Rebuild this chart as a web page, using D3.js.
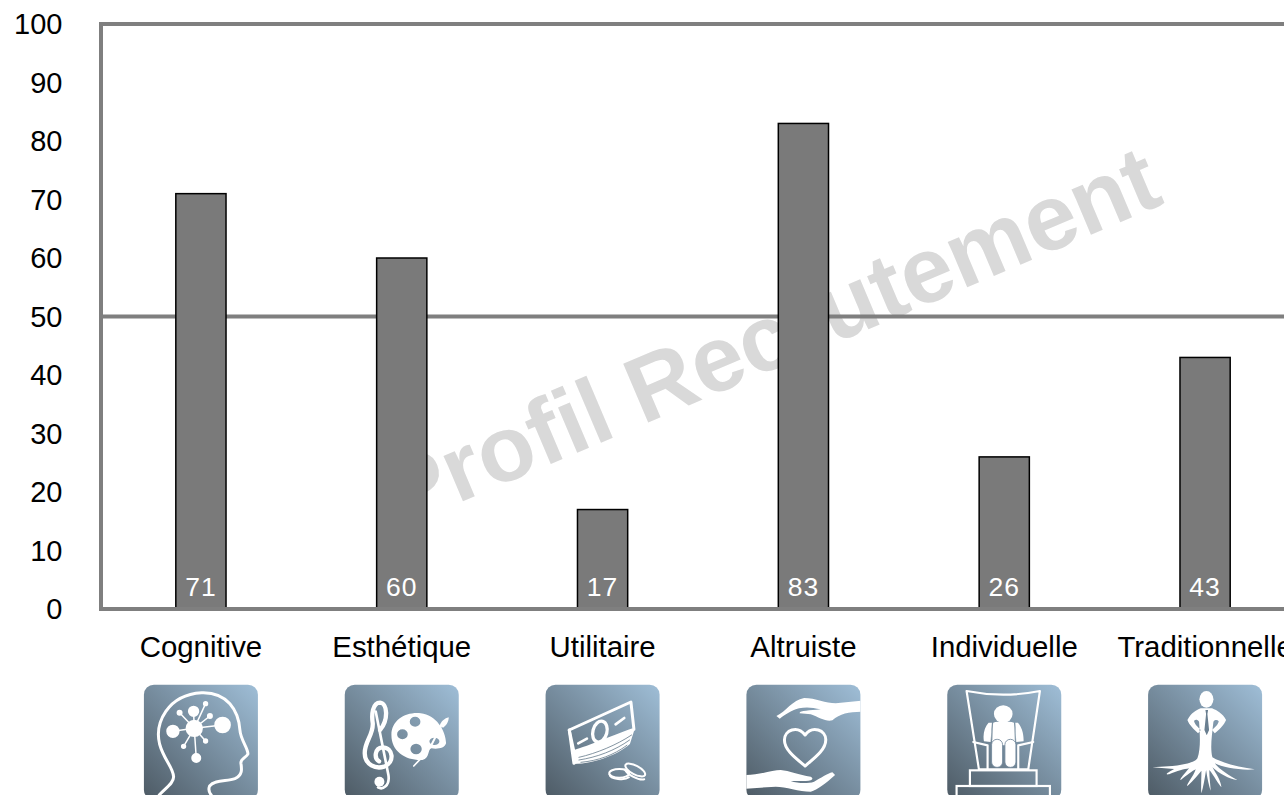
<!DOCTYPE html>
<html>
<head>
<meta charset="utf-8">
<script src="https://cdn.jsdelivr.net/npm/d3@7"></script>
<style>
  html, body { margin: 0; padding: 0; background: #fff; overflow: hidden; }
  svg { display: block; }
  text { font-family: "Liberation Sans", Arial, sans-serif; }
</style>
</head>
<body>
<div id="chart"></div>
<script>
const categories = ["Cognitive", "Esthétique", "Utilitaire", "Altruiste", "Individuelle", "Traditionnelle"];
const scores = [71, 60, 17, 83, 26, 43];
const yTicks = [0, 10, 20, 30, 40, 50, 60, 70, 80, 90, 100];
const limitLines = [50];
const watermark = "Profil Recrutement";

const width = 1284, height = 795;
const margin = {top: 24, left: 101, bottom: 186};
const frameColor = "#7f7f7f";

const svg = d3.select("#chart").append("svg")
    .attr("width", width)
    .attr("height", height);

const scaleY = d3.scaleLinear()
    .domain([0, 100])
    .range([height - margin.bottom, margin.top]);

// the plot runs past the right edge of the window, the last label gets cut
const scaleX = d3.scaleBand()
    .domain(categories)
    .range([margin.left - 0.5, margin.left + 1204.5])
    .paddingInner(0.75)
    .paddingOuter(0.375);

const centre = c => scaleX(c) + scaleX.bandwidth() / 2;

// watermark goes under everything
svg.append("text")
    .attr("transform", "translate(400,528) rotate(-23)")
    .attr("font-size", 93)
    .attr("font-weight", "bold")
    .attr("fill", "#d9d9d9")
    .text(watermark);

// frame, the bottom edge is drawn later so it covers the feet of the bars
svg.append("path")
    .attr("fill", "none")
    .attr("stroke", frameColor)
    .attr("stroke-width", 4)
    .attr("d", d3.line()([
        [width + 10, scaleY(100)],
        [margin.left, scaleY(100)],
        [margin.left, scaleY(0)]
    ]));

svg.append("g")
    .selectAll("line")
    .data(limitLines)
    .join("line")
    .attr("x1", margin.left)
    .attr("x2", width)
    .attr("y1", d => scaleY(d))
    .attr("y2", d => scaleY(d))
    .attr("stroke", frameColor)
    .attr("stroke-width", 4);

const axisY = svg.append("g")
    .attr("transform", "translate(62.5,0.5)")
    .call(d3.axisLeft(scaleY).tickValues(yTicks).tickSize(0).tickPadding(0));
axisY.select(".domain").remove();
axisY.selectAll("text")
    .attr("font-size", 29)
    .attr("font-family", "'Liberation Sans', Arial, sans-serif")
    .attr("fill", "#000");

// bars
svg.append("g")
    .selectAll("rect")
    .data(categories)
    .join("rect")
    .attr("x", c => scaleX(c))
    .attr("y", (c, i) => scaleY(scores[i]))
    .attr("width", scaleX.bandwidth())
    .attr("height", (c, i) => scaleY(0) - scaleY(scores[i]))
    .attr("fill", "#7a7a7a")
    .attr("stroke", "#000")
    .attr("stroke-width", 1.5);

svg.append("line")
    .attr("x1", margin.left - 2)
    .attr("x2", width)
    .attr("y1", scaleY(0))
    .attr("y2", scaleY(0))
    .attr("stroke", frameColor)
    .attr("stroke-width", 4);

// values sit at the foot of each bar
svg.append("g")
    .selectAll("text")
    .data(categories)
    .join("text")
    .attr("x", centre)
    .attr("y", scaleY(0) - 13)
    .attr("text-anchor", "middle")
    .attr("font-size", 26.5)
    .attr("letter-spacing", 1)
    .attr("fill", "#fff")
    .text((c, i) => scores[i]);

const axisX = svg.append("g")
    .attr("transform", `translate(0,${scaleY(0)})`)
    .call(d3.axisBottom(scaleX).tickSize(0).tickPadding(0));
axisX.select(".domain").remove();
axisX.selectAll("text")
    .attr("font-size", 29.4)
    .attr("font-family", "'Liberation Sans', Arial, sans-serif")
    .attr("fill", "#000")
    .attr("dy", 0)
    .attr("y", 48);

// icon tiles: glyphs are drawn on a 366 wide grid and scaled down by 3
const defs = svg.append("defs");
const grad = defs.append("linearGradient")
    .attr("id", "tile")
    .attr("x1", 0).attr("y1", 1)
    .attr("x2", 1).attr("y2", 0);
grad.append("stop").attr("offset", 0).attr("stop-color", "#4d5a64");
grad.append("stop").attr("offset", 1).attr("stop-color", "#9fbed7");
defs.append("clipPath").attr("id", "tileClip")
    .append("rect")
    .attr("x", 12).attr("y", 14)
    .attr("width", 342).attr("height", 345)
    .attr("rx", 30);

const ring = (cx, cy, r) => `M${cx - r},${cy}a${r},${r} 0 1,0 ${2 * r},0a${r},${r} 0 1,0 ${-2 * r},0Z`;
const oval = (cx, cy, rx, ry) => `M${cx - rx},${cy}a${rx},${ry} 0 1,0 ${2 * rx},0a${rx},${ry} 0 1,0 ${-2 * rx},0Z`;

const line = (g, d, w, color = "#fff") => g.append("path").attr("d", d).attr("fill", "none")
    .attr("stroke", color).attr("stroke-width", w)
    .attr("stroke-linecap", "round").attr("stroke-linejoin", "round");
const fill = (g, d) => g.append("path").attr("d", d).attr("fill", "#fff").attr("fill-rule", "evenodd");

const glyphs = {
    Cognitive(g) {
        line(g, "M58,345 C75,325 102,310 101,290 C100,262 72,240 59,192 C44,130 82,44 185,38 C262,35 296,92 300,150 C302,180 325,205 324,222 C320,232 301,236 303,250 C306,268 308,285 285,296 C262,305 225,298 209,318 C205,328 208,338 214,345", 9);
        fill(g, ring(163, 145, 26) + ring(99, 154, 20) + ring(248, 135, 25) + ring(161, 94, 17)
            + ring(169, 234, 15) + ring(119, 98, 9) + ring(197, 71, 8) + ring(210, 108, 9)
            + ring(197, 183, 8) + ring(131, 199, 8));
        line(g, "M163,145L99,154M163,145L248,135M163,145L161,94M163,145L169,234M163,145L119,98M163,145L197,71M163,145L210,108M163,145L197,183M163,145L131,199", 4.5);
    },
    "Esthétique"(g) {
        line(g, "M118,150 C144,118 140,70 118,68 C95,68 92,105 96,130 C98,165 71,185 72,220 C73,255 105,268 130,260 C163,248 158,202 125,202 C102,204 99,235 115,244", 13);
        line(g, "M105,95 L143,285 C148,318 125,330 112,322", 8);
        fill(g, ring(116, 305, 15));
        fill(g, "M152,165 C152,120 195,95 240,100 C285,105 315,150 316,190 C312,205 290,208 272,205 C260,208 268,235 245,240 C195,242 152,215 152,165Z"
            + oval(223, 125, 16, 15) + oval(185, 163, 16, 15) + oval(226, 207, 17, 16) + oval(281, 184, 15, 11));
        line(g, "M272,195 L300,140", 6);
        fill(g, "M297,137 C300,125 312,114 324,112 C324,125 316,138 307,143Z");
        line(g, "M219,258 L238,238", 5);
    },
    Utilitaire(g) {
        fill(g, "M90,215 L97,252 C150,252 225,228 265,192 L279,148 C225,165 150,200 90,215Z");
        line(g, "M83,150 L268,66 L277,148 C225,165 150,200 97,215Z", 9);
        line(g, "M83,150 L97,250", 9);
        line(g, "M112,232 C165,220 225,195 270,165 M112,240 C165,232 220,212 264,180 M118,247 C170,242 215,226 256,196", 2.5, "#6b7f8f");
        g.append("ellipse").attr("cx", 175).attr("cy", 155).attr("rx", 21).attr("ry", 32)
            .attr("transform", "rotate(15 175 155)")
            .attr("fill", "none").attr("stroke", "#fff").attr("stroke-width", 10);
        line(g, "M110,190 L136,176 M222,133 L248,114", 8);
        g.append("ellipse").attr("cx", 233).attr("cy", 280).attr("rx", 30).attr("ry", 13)
            .attr("fill", "none").attr("stroke", "#fff").attr("stroke-width", 6);
        line(g, "M204,284 C206,298 250,302 262,292", 6);
        g.append("ellipse").attr("cx", 281).attr("cy", 270).attr("rx", 33).attr("ry", 13)
            .attr("transform", "rotate(28 281 270)")
            .attr("fill", "none").attr("stroke", "#fff").attr("stroke-width", 6);
        line(g, "M250,268 C255,282 290,302 308,298", 6);
    },
    Altruiste(g) {
        fill(g, "M102,108 C130,95 150,60 185,54 C220,54 250,70 280,70 L356,62 L356,95 C320,96 292,100 270,121 C250,126 230,112 205,103 L172,100 C168,92 200,92 235,88 C210,82 190,80 170,85 C150,90 125,105 112,116Z");
        fill(g, "M10,285 C50,285 90,270 115,270 C140,272 170,285 205,290 C215,295 210,303 190,303 L145,303 C165,310 195,312 215,305 C235,295 255,280 270,277 L278,285 C250,310 225,330 205,335 C170,335 130,320 100,320 L10,326Z");
        line(g, "M188,258 C160,235 126,210 126,180 C126,150 165,135 188,165 C210,135 251,150 250,180 C250,210 215,235 188,258Z", 9);
    },
    Individuelle(g) {
        line(g, "M107,268 L70,33 Q180,55 290,33 L255,268", 6.5);
        line(g, "M90,186 L133,196 L133,268 M270,186 L225,196 L225,268", 6.5);
        line(g, "M107,268 L255,268", 6.5);
        g.append("ellipse").attr("cx", 180).attr("cy", 102).attr("rx", 28).attr("ry", 26).attr("fill", "#fff");
        fill(g, "M150,128 C165,122 195,122 212,128 C218,150 218,165 214,196 L148,196 C144,165 144,150 150,128Z");
        fill(g, "M136,128 C125,140 118,160 122,184 L142,186 L146,128Z M224,128 C235,140 242,160 241,184 L219,186 L216,128Z");
        line(g, "M148,130 L146,180 M214,130 L216,180", 2.5, "#7b90a1");
        g.selectAll("rect.leg").data([145, 185]).join("rect").attr("class", "leg")
            .attr("x", d => d).attr("y", 178).attr("width", 33).attr("height", 84).attr("rx", 16)
            .attr("fill", "#fff").attr("stroke", "#71879a").attr("stroke-width", 2.5);
        g.append("rect").attr("x", 80).attr("y", 271).attr("width", 200).attr("height", 47)
            .attr("fill", "none").attr("stroke", "#fff").attr("stroke-width", 6.5);
        g.append("rect").attr("x", 40).attr("y", 318).attr("width", 280).attr("height", 50)
            .attr("fill", "none").attr("stroke", "#fff").attr("stroke-width", 6.5);
    },
    Traditionnelle(g) {
        g.append("ellipse").attr("cx", 187).attr("cy", 58).attr("rx", 21).attr("ry", 25).attr("fill", "#fff");
        fill(g, "M170,85 C155,92 142,98 130,120 C135,135 150,148 162,160 L170,150 C160,140 150,130 150,122 C155,118 160,118 165,125 C168,170 170,205 160,235 C150,250 110,255 85,258 L25,262 L90,267 C70,278 60,285 75,283 C100,272 120,268 135,265 C118,285 105,300 110,300 C130,285 145,272 155,268 C145,295 125,315 130,318 C150,300 165,280 172,272 C172,295 170,325 172,340 C178,320 182,295 186,270 C190,295 195,320 200,332 C198,305 195,285 196,270 C208,285 225,315 232,322 C230,300 215,280 205,262 C225,280 255,298 280,300 C260,290 225,268 212,250 C235,262 290,272 332,268 C290,262 235,250 205,232 C198,205 203,170 208,125 C214,118 220,120 224,124 C222,135 212,142 204,150 L212,160 C225,150 240,135 246,120 C235,100 220,92 204,85Z");
        g.append("path").attr("d", "M184,90 L192,90 L190,102 L195,150 L188,166 L181,150 L186,102Z").attr("fill", "#6a7f90");
    }
};

const icons = svg.append("g")
    .selectAll("g")
    .data(categories)
    .join("g")
    .attr("transform", c => `translate(${centre(c) - 61},680) scale(${1 / 3})`);

icons.append("rect")
    .attr("x", 12).attr("y", 14)
    .attr("width", 342).attr("height", 345)
    .attr("rx", 30)
    .attr("fill", "url(#tile)");

icons.append("g")
    .attr("clip-path", "url(#tileClip)")
    .each(function(c) { glyphs[c](d3.select(this)); });
</script>
</body>
</html>
